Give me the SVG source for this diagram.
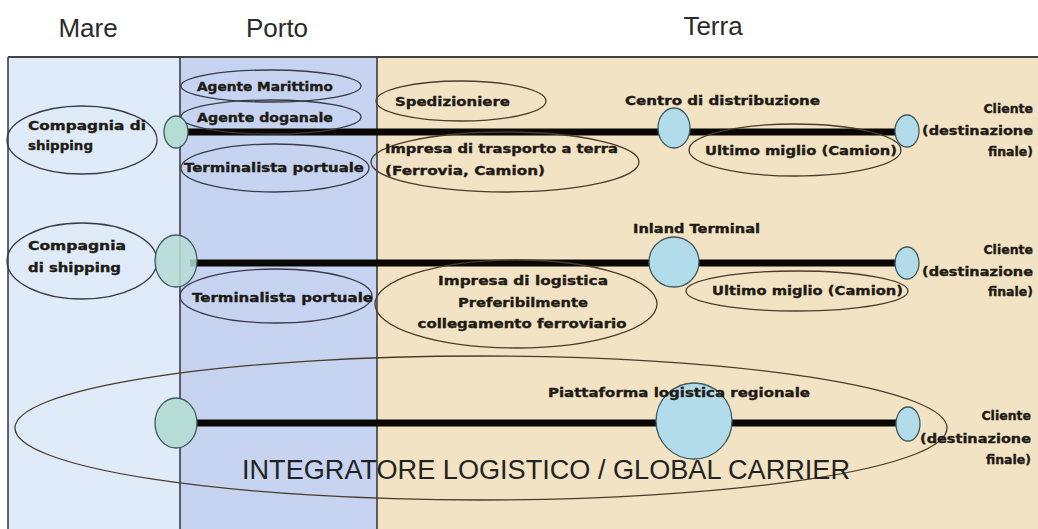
<svg xmlns="http://www.w3.org/2000/svg" width="1038" height="529" viewBox="0 0 1038 529">
<style>
.hdr{font-family:"Liberation Sans",Arial,sans-serif;font-size:26px;fill:#2a2a2a}
.lbl{font-family:"DejaVu Sans","Liberation Sans",sans-serif;font-weight:bold;font-size:12.5px;fill:#1e1a14;stroke:#1e1a14;stroke-width:0.35}
.lblr{font-family:"DejaVu Sans","Liberation Sans",sans-serif;font-weight:bold;font-size:12.5px;fill:#1e1a14;stroke:#1e1a14;stroke-width:0.35;text-anchor:end}
.big{font-family:"Liberation Sans",Arial,sans-serif;font-size:27px;fill:#222}
.ov{fill:none;stroke:#3a3a48;stroke-width:1.3}
.ovt{fill:none;stroke:#4a3c28;stroke-width:1.3}
.nd{fill:#b3dceb;stroke:#3f5a5e;stroke-width:1.3}
.ndt{fill:#b6dcd6;stroke:#3f5a5e;stroke-width:1.3}
.line{stroke:#0a0705;stroke-width:7;fill:none}
</style>
<rect x="0" y="0" width="1038" height="529" fill="#ffffff"/>
<g id="columns">
<rect x="8" y="57" width="172" height="472" fill="#dfebf8"/>
<rect x="180" y="57" width="197" height="472" fill="#c6d4f1"/>
<rect x="377" y="57" width="661" height="472" fill="#f3e3c5"/>
<line x1="8" y1="57" x2="1038" y2="57" stroke="#444" stroke-width="2"/>
<line x1="8" y1="57" x2="8" y2="529" stroke="#333" stroke-width="1.5"/>
<line x1="180" y1="57" x2="180" y2="529" stroke="#333" stroke-width="1.5"/>
<line x1="377" y1="57" x2="377" y2="529" stroke="#333" stroke-width="1.5"/>
</g>
<g id="headers">
<text class="hdr" x="88" y="37" text-anchor="middle">Mare</text>
<text class="hdr" x="277" y="37" text-anchor="middle">Porto</text>
<text class="hdr" x="713" y="35" text-anchor="middle">Terra</text>
</g>
<g id="connectors">
<line class="line" x1="185" y1="132" x2="902" y2="132"/>
<line class="line" x1="190" y1="263" x2="902" y2="263"/>
<line class="line" x1="190" y1="423" x2="902" y2="423"/>
</g>
<g id="integratore">
<ellipse class="ovt" cx="481" cy="428" rx="466" ry="72"/>
<text class="big" x="242" y="479" textLength="608" lengthAdjust="spacingAndGlyphs">INTEGRATORE LOGISTICO / GLOBAL CARRIER</text>
</g>
<g id="row1">
<g id="compagnia1"><ellipse class="ov" cx="82" cy="140" rx="75" ry="34"/>
<text class="lbl" x="28" y="130" textLength="118" lengthAdjust="spacingAndGlyphs">Compagnia di</text>
<text class="lbl" x="28" y="150" textLength="65" lengthAdjust="spacingAndGlyphs">shipping</text></g>
<g id="agente-marittimo"><ellipse class="ov" cx="271" cy="86" rx="90" ry="16"/>
<text class="lbl" x="197" y="91" textLength="136" lengthAdjust="spacingAndGlyphs">Agente Marittimo</text></g>
<g id="agente-doganale"><ellipse class="ov" cx="271" cy="117" rx="90" ry="17"/>
<text class="lbl" x="197" y="122" textLength="136" lengthAdjust="spacingAndGlyphs">Agente doganale</text></g>
<g id="terminalista1"><ellipse class="ov" cx="275" cy="168" rx="94" ry="24"/>
<text class="lbl" x="184" y="172" textLength="180" lengthAdjust="spacingAndGlyphs">Terminalista portuale</text></g>
<g id="spedizioniere"><ellipse class="ovt" cx="461" cy="101" rx="85" ry="20"/>
<text class="lbl" x="395" y="106" textLength="115" lengthAdjust="spacingAndGlyphs">Spedizioniere</text></g>
<g id="impresa-trasporto"><ellipse class="ovt" cx="505" cy="162" rx="134" ry="30"/>
<text class="lbl" x="385" y="153" textLength="233" lengthAdjust="spacingAndGlyphs">Impresa di trasporto a terra</text>
<text class="lbl" x="385" y="175" textLength="160" lengthAdjust="spacingAndGlyphs">(Ferrovia, Camion)</text></g>
<g id="ultimo1"><ellipse class="ovt" cx="795" cy="150" rx="106" ry="26"/>
<text class="lbl" x="705" y="155" textLength="192" lengthAdjust="spacingAndGlyphs">Ultimo miglio (Camion)</text></g>
<g id="centro"><text class="lbl" x="625" y="105" textLength="195" lengthAdjust="spacingAndGlyphs">Centro di distribuzione</text>
<ellipse class="nd" cx="674" cy="128" rx="16" ry="20"/></g>
<g id="nodo1a"><ellipse class="ndt" cx="176" cy="132" rx="12" ry="16"/></g>
<g id="cliente1"><ellipse class="nd" cx="907" cy="131" rx="12" ry="16"/>
<text class="lblr" x="1033" y="113">Cliente</text>
<text class="lblr" x="1033" y="135" textLength="111" lengthAdjust="spacingAndGlyphs">(destinazione</text>
<text class="lblr" x="1033" y="156">finale)</text></g>
</g>
<g id="row2">
<g id="compagnia2"><ellipse class="ov" cx="82" cy="261" rx="75" ry="38"/>
<text class="lbl" x="28" y="250" textLength="98" lengthAdjust="spacingAndGlyphs">Compagnia</text>
<text class="lbl" x="28" y="272" textLength="93" lengthAdjust="spacingAndGlyphs">di shipping</text></g>
<g id="nodo2a"><ellipse class="ndt" cx="176" cy="261" rx="21" ry="26" fill-opacity="0.85"/></g>
<g id="terminalista2"><ellipse class="ov" cx="276" cy="296" rx="96" ry="27"/>
<text class="lbl" x="192" y="302" textLength="181" lengthAdjust="spacingAndGlyphs">Terminalista portuale</text></g>
<g id="impresa-logistica"><ellipse class="ovt" cx="516" cy="304" rx="141" ry="44"/>
<text class="lbl" x="523" y="285" text-anchor="middle" textLength="170" lengthAdjust="spacingAndGlyphs">Impresa di logistica</text>
<text class="lbl" x="523" y="307" text-anchor="middle" textLength="130" lengthAdjust="spacingAndGlyphs">Preferibilmente</text>
<text class="lbl" x="522" y="328" text-anchor="middle" textLength="209" lengthAdjust="spacingAndGlyphs">collegamento ferroviario</text></g>
<g id="ultimo2"><ellipse class="ovt" cx="797" cy="291" rx="111" ry="20"/>
<text class="lbl" x="712" y="295" textLength="191" lengthAdjust="spacingAndGlyphs">Ultimo miglio (Camion)</text></g>
<g id="inland"><text class="lbl" x="633" y="233" textLength="127" lengthAdjust="spacingAndGlyphs">Inland Terminal</text>
<circle class="nd" cx="674" cy="262" r="25"/></g>
<g id="cliente2"><ellipse class="nd" cx="907" cy="263" rx="12" ry="16"/>
<text class="lblr" x="1033" y="254">Cliente</text>
<text class="lblr" x="1033" y="276" textLength="111" lengthAdjust="spacingAndGlyphs">(destinazione</text>
<text class="lblr" x="1033" y="296">finale)</text></g>
</g>
<g id="row3">
<g id="nodo3a"><ellipse class="ndt" cx="176" cy="423" rx="21" ry="25"/></g>
<g id="piattaforma"><circle class="nd" cx="694" cy="421" r="38"/>
<text class="lbl" x="548" y="397" textLength="262" lengthAdjust="spacingAndGlyphs">Piattaforma logistica regionale</text></g>
<g id="cliente3"><ellipse class="nd" cx="908" cy="424" rx="12" ry="17"/>
<text class="lblr" x="1031" y="420">Cliente</text>
<text class="lblr" x="1031" y="443" textLength="111" lengthAdjust="spacingAndGlyphs">(destinazione</text>
<text class="lblr" x="1031" y="464">finale)</text></g>
</g>
</svg>
